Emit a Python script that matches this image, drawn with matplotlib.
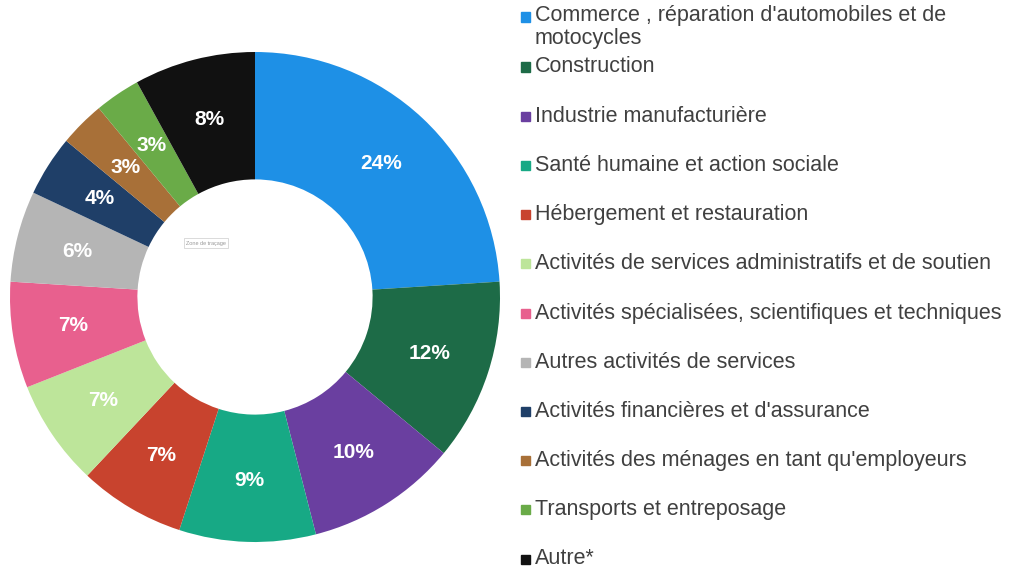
import matplotlib.pyplot as plt
from matplotlib.patches import Rectangle

# secteurs d'activite
labels = ["Commerce , réparation d'automobiles et de\nmotocycles",
          "Construction",
          "Industrie manufacturière",
          "Santé humaine et action sociale",
          "Hébergement et restauration",
          "Activités de services administratifs et de soutien",
          "Activités spécialisées, scientifiques et techniques",
          "Autres activités de services",
          "Activités financières et d'assurance",
          "Activités des ménages en tant qu'employeurs",
          "Transports et entreposage",
          "Autre*"]
values = [24, 12, 10, 9, 7, 7, 7, 6, 4, 3, 3, 8]
colors = ['#1e90e6', '#1d6b47', '#6a3fa0', '#17a985', '#c8432e', '#bde59a',
          '#e8608e', '#b5b5b5', '#1f3f68', '#a87038', '#6aab48', '#111111']

plt.rcParams['font.family'] = ['Liberation Sans', 'DejaVu Sans']

fig = plt.figure(figsize=(10.14, 5.75), dpi=100)
ax = fig.add_axes([10/1014, 33/575, 490/1014, 490/575])

wedges, texts, autotexts = ax.pie(values, colors=colors, startangle=90, counterclock=False,
                                  autopct='%.0f%%', pctdistance=0.75,
                                  wedgeprops=dict(width=0.52),
                                  textprops=dict(color='white', fontsize=15, fontweight='bold'))
ax.set_xlim(-1, 1)
ax.set_ylim(-1, 1)
ax.set_aspect('equal')

# petite etiquette au centre
ax.text(-0.2, 0.22, 'Zone de traçage', fontsize=4, color='#999999', ha='center', va='center',
        bbox=dict(boxstyle='square,pad=0.4', fc='white', ec='#cccccc', lw=0.5))

# legende faite a la main
for i, (lab, col) in enumerate(zip(labels, colors)):
    if i == 0:
        y = 17
    else:
        y = 67 + 49.2 * (i - 1)
    yf = 1 - y / 575
    fig.patches.append(Rectangle((521/1014, yf - 4.5/575), 9/1014, 9/575,
                                 transform=fig.transFigure, color=col))
    if i == 0:
        fig.text(535/1014, 1 - 5/575, lab, fontsize=15.5, color='#404040', va='top', linespacing=1.1)
    else:
        fig.text(535/1014, yf, lab, fontsize=15.5, color='#404040', va='center')

plt.savefig('out.png', dpi=100)
